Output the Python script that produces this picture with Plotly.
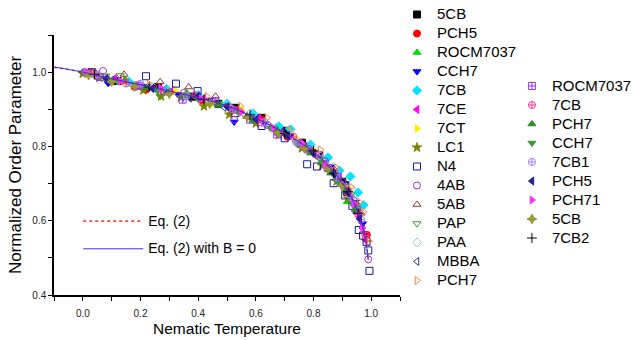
import plotly.graph_objects as go

FONT = "Liberation Sans, Arial, sans-serif"

# ---- model curves: Eq. (2) and Eq. (2) with B = 0 ----
eq2_x = [-0.1, 0.0, 0.1, 0.2, 0.3, 0.4, 0.5, 0.6, 0.7, 0.75, 0.8, 0.85, 0.88,
         0.9, 0.92, 0.94, 0.95, 0.96, 0.97, 0.98, 0.985, 0.99]
eq2_y = [1.013, 1.0, 0.982, 0.966, 0.950, 0.932, 0.910, 0.876, 0.836, 0.812,
         0.786, 0.748, 0.722, 0.702, 0.680, 0.650, 0.632, 0.610, 0.585, 0.553,
         0.527, 0.496]
eq2b0_x = [-0.1, 0.0, 0.1, 0.2, 0.3, 0.4, 0.5, 0.6, 0.7, 0.75, 0.8, 0.85, 0.88,
           0.9, 0.92, 0.94, 0.95, 0.96, 0.97, 0.98, 0.985, 0.99]
eq2b0_y = [1.014, 1.0, 0.982, 0.966, 0.949, 0.931, 0.909, 0.876, 0.836, 0.812,
           0.786, 0.748, 0.722, 0.701, 0.679, 0.649, 0.631, 0.609, 0.584, 0.552,
           0.525, 0.494]

# ---- measured data, first group ----
cb5_x = [0.02, 0.12, 0.26, 0.38, 0.47, 0.53, 0.62, 0.70, 0.76, 0.82, 0.86, 0.90, 0.917, 0.95]
cb5_y = [0.998, 0.976, 0.960, 0.934, 0.915, 0.904, 0.877, 0.842, 0.810, 0.776, 0.738, 0.705, 0.678, 0.628]

pch5_x = [0.05, 0.18, 0.219, 0.30, 0.41, 0.52, 0.62, 0.71, 0.79, 0.85, 0.91, 0.95, 0.985]
pch5_y = [0.989, 0.960, 0.953, 0.946, 0.925, 0.898, 0.872, 0.826, 0.795, 0.742, 0.697, 0.640, 0.562]

rocm_x = [0.03, 0.15, 0.27, 0.36, 0.48, 0.58, 0.67, 0.75, 0.83, 0.88, 0.917, 0.95]
rocm_y = [0.993, 0.978, 0.952, 0.944, 0.913, 0.880, 0.852, 0.806, 0.758, 0.715, 0.651, 0.637]

cch7_x = [0.01, 0.088, 0.22, 0.33, 0.44, 0.525, 0.63, 0.72, 0.80, 0.86, 0.91, 0.945, 0.97]
cch7_y = [1.001, 0.970, 0.962, 0.940, 0.925, 0.866, 0.862, 0.829, 0.780, 0.745, 0.700, 0.650, 0.592]

cb7_x = [0.04, 0.16, 0.29, 0.40, 0.50, 0.59, 0.68, 0.72, 0.79, 0.85, 0.89, 0.928, 0.955, 0.974]
cb7_y = [0.994, 0.974, 0.955, 0.938, 0.915, 0.888, 0.854, 0.846, 0.805, 0.770, 0.735, 0.719, 0.676, 0.642]

ce7_x = [0.02, 0.11, 0.20, 0.31, 0.42, 0.53, 0.61, 0.69, 0.77, 0.84, 0.89, 0.93, 0.96, 0.98]
ce7_y = [0.999, 0.983, 0.961, 0.951, 0.930, 0.897, 0.876, 0.838, 0.800, 0.752, 0.718, 0.660, 0.612, 0.548]

ct7_x = [0.06, 0.184, 0.32, 0.45, 0.55, 0.66, 0.74, 0.81, 0.87, 0.92]
ct7_y = [0.990, 0.962, 0.950, 0.916, 0.899, 0.850, 0.822, 0.785, 0.728, 0.690]

lc1_x = [0.0, 0.057, 0.143, 0.21, 0.271, 0.34, 0.42, 0.508, 0.60, 0.68, 0.76, 0.83, 0.88, 0.92]
lc1_y = [0.996, 0.985, 0.976, 0.951, 0.935, 0.932, 0.908, 0.886, 0.862, 0.832, 0.795, 0.748, 0.706, 0.660]

n4_x = [0.031, 0.219, 0.323, 0.398, 0.529, 0.62, 0.70, 0.778, 0.812, 0.87, 0.91, 0.935, 0.957, 0.972, 0.984, 0.99, 0.994]
n4_y = [1.000, 0.989, 0.969, 0.949, 0.890, 0.855, 0.822, 0.752, 0.746, 0.701, 0.668, 0.640, 0.575, 0.560, 0.543, 0.520, 0.465]

ab4_x = [0.07, 0.19, 0.35, 0.525, 0.64, 0.75, 0.84, 0.90, 0.94, 0.99]
ab4_y = [1.003, 0.965, 0.944, 0.872, 0.858, 0.806, 0.760, 0.705, 0.655, 0.496]

ab5_x = [0.04, 0.143, 0.268, 0.367, 0.46, 0.57, 0.68, 0.78, 0.86, 0.92, 0.965, 0.988]
ab5_y = [1.002, 0.994, 0.974, 0.960, 0.935, 0.880, 0.835, 0.790, 0.736, 0.675, 0.620, 0.550]

pap_x = [0.08, 0.13, 0.268, 0.43, 0.56, 0.66, 0.74, 0.82, 0.88, 0.93]
pap_y = [0.990, 0.991, 0.935, 0.922, 0.884, 0.848, 0.810, 0.768, 0.716, 0.670]

paa_x = [0.01, 0.24, 0.50, 0.581, 0.71, 0.80, 0.87, 0.93, 0.96]
paa_y = [0.999, 0.962, 0.912, 0.890, 0.842, 0.795, 0.745, 0.688, 0.625]

mbba_x = [0.0, 0.10, 0.25, 0.37, 0.49, 0.60, 0.69, 0.77, 0.84, 0.89, 0.94, 0.97]
mbba_y = [1.000, 0.978, 0.955, 0.930, 0.905, 0.872, 0.838, 0.797, 0.750, 0.708, 0.642, 0.580]

pch7_x = [0.04, 0.23, 0.43, 0.547, 0.639, 0.72, 0.824, 0.88, 0.93, 0.96, 0.974, 0.992]
pch7_y = [0.995, 0.968, 0.935, 0.908, 0.877, 0.843, 0.791, 0.742, 0.690, 0.650, 0.624, 0.545]

# ---- measured data, second group ----
rocm_b_x = [0.06, 0.19, 0.346, 0.459, 0.58, 0.674, 0.78, 0.85, 0.91, 0.95]
rocm_b_y = [0.987, 0.963, 0.926, 0.922, 0.872, 0.832, 0.792, 0.742, 0.688, 0.630]

cb7_b_x = [0.03, 0.15, 0.28, 0.39, 0.51, 0.62, 0.73, 0.81, 0.87, 0.92, 0.955, 0.98]
cb7_b_y = [0.997, 0.970, 0.950, 0.938, 0.905, 0.864, 0.826, 0.778, 0.735, 0.676, 0.617, 0.560]

pch7_b_x = [0.09, 0.22, 0.35, 0.47, 0.59, 0.674, 0.79, 0.86, 0.91, 0.945]
pch7_b_y = [0.980, 0.958, 0.936, 0.912, 0.870, 0.845, 0.782, 0.728, 0.680, 0.630]

cch7_b_x = [0.12, 0.26, 0.40, 0.54, 0.65, 0.75, 0.83, 0.89, 0.935]
cch7_b_y = [0.975, 0.950, 0.928, 0.892, 0.850, 0.806, 0.758, 0.700, 0.648]

cb71_x = [0.05, 0.20, 0.36, 0.52, 0.63, 0.74, 0.82, 0.88, 0.93, 0.965]
cb71_y = [0.993, 0.969, 0.936, 0.900, 0.866, 0.812, 0.776, 0.716, 0.662, 0.603]

pch5_b_x = [0.08, 0.24, 0.294, 0.398, 0.50, 0.60, 0.71, 0.80, 0.87, 0.92, 0.96]
pch5_b_y = [0.983, 0.956, 0.944, 0.935, 0.907, 0.873, 0.829, 0.782, 0.726, 0.676, 0.605]

pch71_x = [0.01, 0.13, 0.27, 0.41, 0.55, 0.66, 0.76, 0.84, 0.90, 0.94, 0.97]
pch71_y = [1.000, 0.976, 0.957, 0.928, 0.893, 0.850, 0.809, 0.753, 0.697, 0.646, 0.580]

cb5_b_x = [0.02, 0.10, 0.18, 0.30, 0.44, 0.57, 0.68, 0.77, 0.85, 0.90]
cb5_b_y = [0.992, 0.974, 0.962, 0.942, 0.915, 0.880, 0.836, 0.795, 0.740, 0.694]

cb72_x = [0.04, 0.23, 0.42, 0.58, 0.70, 0.80, 0.87, 0.92, 0.955]
cb72_y = [0.994, 0.960, 0.926, 0.885, 0.835, 0.788, 0.728, 0.678, 0.620]

# (name, x, y, symbol, colour, legend)
series = [
    ("5CB", cb5_x, cb5_y, "square", "#000000", "legend"),
    ("PCH5", pch5_x, pch5_y, "circle", "#ff0000", "legend"),
    ("ROCM7037", rocm_x, rocm_y, "triangle-up", "#00dd00", "legend"),
    ("CCH7", cch7_x, cch7_y, "triangle-down", "#0000ff", "legend"),
    ("7CB", cb7_x, cb7_y, "diamond", "#00e5ff", "legend"),
    ("7CE", ce7_x, ce7_y, "triangle-left", "#ff00ff", "legend"),
    ("7CT", ct7_x, ct7_y, "triangle-right", "#ffee00", "legend"),
    ("LC1", lc1_x, lc1_y, "star", "#808000", "legend"),
    ("N4", n4_x, n4_y, "square-open", "#1a1a9a", "legend"),
    ("4AB", ab4_x, ab4_y, "circle-open", "#9933cc", "legend"),
    ("5AB", ab5_x, ab5_y, "triangle-up-open", "#993333", "legend"),
    ("PAP", pap_x, pap_y, "triangle-down-open", "#339933", "legend"),
    ("PAA", paa_x, paa_y, "diamond-open", "#99cccc", "legend"),
    ("MBBA", mbba_x, mbba_y, "triangle-left-open", "#333399", "legend"),
    ("PCH7", pch7_x, pch7_y, "triangle-right-open", "#ff8833", "legend"),
    ("ROCM7037", rocm_b_x, rocm_b_y, "square-cross-open", "#9933ff", "legend2"),
    ("7CB", cb7_b_x, cb7_b_y, "circle-cross-open", "#ff3399", "legend2"),
    ("PCH7", pch7_b_x, pch7_b_y, "triangle-up", "#2e8b2e", "legend2"),
    ("CCH7", cch7_b_x, cch7_b_y, "triangle-down", "#3a9a3a", "legend2"),
    ("7CB1", cb71_x, cb71_y, "circle-cross-open", "#a080ff", "legend2"),
    ("PCH5", pch5_b_x, pch5_b_y, "triangle-left", "#1f1f8f", "legend2"),
    ("PCH71", pch71_x, pch71_y, "triangle-right", "#ff33ff", "legend2"),
    ("5CB", cb5_b_x, cb5_b_y, "star-diamond", "#999933", "legend2"),
    ("7CB2", cb72_x, cb72_y, "cross-thin-open", "#000000", "legend2"),
]


def label(txt, size=15):
    return f"<span style='font-size:{size}px'>{txt}</span>"


fig = go.Figure()
for name, xs, ys, sym, col, leg in series:
    fig.add_trace(go.Scatter(
        x=xs, y=ys, mode="markers", name=label(name), legend=leg,
        marker=dict(symbol=sym, size=7, color=col, line=dict(color=col, width=1)),
    ))

fig.add_trace(go.Scatter(
    x=eq2_x, y=eq2_y, mode="lines", name=label("Eq. (2)", 14),
    line=dict(color="#ff0000", width=1.3, dash="dot", shape="spline"),
    legend="legend3",
))
fig.add_trace(go.Scatter(
    x=eq2b0_x, y=eq2b0_y, mode="lines", name=label("Eq. (2) with B = 0", 14),
    line=dict(color="#3333ff", width=1, shape="spline"),
    legend="legend4",
))

axis_common = dict(
    showline=True, linecolor="black", linewidth=1.5, mirror=False,
    ticks="outside", ticklen=4, tickwidth=1.2, tickcolor="black",
    showgrid=False, zeroline=False,
    tickfont=dict(family=FONT, size=10, color="#222"),
)

fig.update_xaxes(
    range=[-0.1, 1.1], tick0=0, dtick=0.2, tickformat=".1f", ticklabelstandoff=4,
    minor=dict(dtick=0.1, tick0=0, ticks="outside", ticklen=4, tickwidth=1.2, tickcolor="black"),
    title=dict(text="Nematic Temperature", font=dict(family=FONT, size=15.5, color="black"), standoff=5),
    **axis_common,
)
fig.update_yaxes(
    range=[0.4, 1.1], tick0=0.4, dtick=0.2, tickformat=".1f",
    minor=dict(dtick=0.1, tick0=0.4, ticks="outside", ticklen=4, tickwidth=1.2, tickcolor="black"),
    title=dict(text="Normalized Order Parameter", font=dict(family=FONT, size=17, color="black"), standoff=6),
    **axis_common,
)

legend_common = dict(
    xanchor="left", yanchor="top", bgcolor="rgba(0,0,0,0)", borderwidth=0,
    font=dict(family=FONT, size=12, color="black"), maxheight=400,
)
fig.update_layout(
    width=634, height=340, autosize=False,
    margin=dict(l=54, r=234, t=35, b=45, autoexpand=False),
    paper_bgcolor="white", plot_bgcolor="white",
    legend=dict(x=0.9913, y=1.1346, **legend_common),
    legend2=dict(x=1.3235, y=0.8596, **legend_common),
    legend3=dict(x=0.07, y=0.3396, itemwidth=60, **legend_common),
    legend4=dict(x=0.07, y=0.2335, itemwidth=60, **legend_common),
)

fig.write_html("out.html")
